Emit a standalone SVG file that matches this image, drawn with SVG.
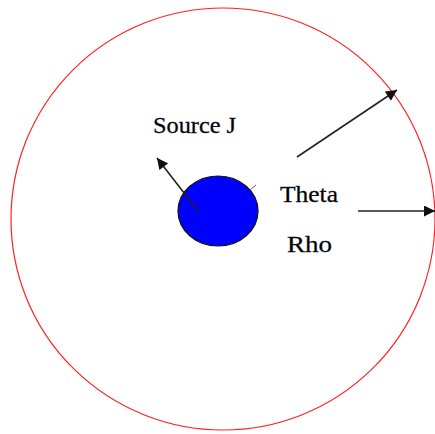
<svg xmlns="http://www.w3.org/2000/svg" width="435" height="434" viewBox="0 0 435 434">
<style>
.lbl{font-family:"Liberation Serif","Times New Roman",serif;font-size:24px;fill:#000;stroke:#1a1a2a;stroke-width:0.3}
.conn line{stroke:#222;stroke-width:1.6}
</style>
<defs>
<marker id="ah" viewBox="0 0 10 10" refX="10" refY="5" markerWidth="13" markerHeight="11" orient="auto" markerUnits="userSpaceOnUse">
<path d="M0,0 L10,5 L0,10 z" fill="#111"/>
</marker>
</defs>
<rect width="435" height="434" fill="#fff"/>
<g id="boundary"><ellipse cx="223" cy="219" rx="212" ry="211" fill="none" stroke="#ff2020" stroke-width="1.2"/></g>
<g id="source"><ellipse cx="218" cy="211" rx="40" ry="35" fill="#0000ff" stroke="#111" stroke-width="1.2"/></g>
<g id="labels">
<text id="sourceJ" class="lbl" x="153" y="133" textLength="83" lengthAdjust="spacingAndGlyphs">Source J</text>
<text id="theta" class="lbl" x="280" y="202" textLength="58" lengthAdjust="spacingAndGlyphs">Theta</text>
<text id="rho" class="lbl" x="287" y="252" textLength="45" lengthAdjust="spacingAndGlyphs">Rho</text>
</g>
<g id="connectors" class="conn">
<line x1="198" y1="211" x2="157" y2="158" marker-end="url(#ah)"/>
<line x1="297" y1="157" x2="397" y2="90" marker-end="url(#ah)"/>
<line x1="358" y1="211" x2="435" y2="211" marker-end="url(#ah)"/>
<line x1="250" y1="190" x2="256" y2="185" style="stroke:#666;stroke-width:1"/>
</g>
</svg>
